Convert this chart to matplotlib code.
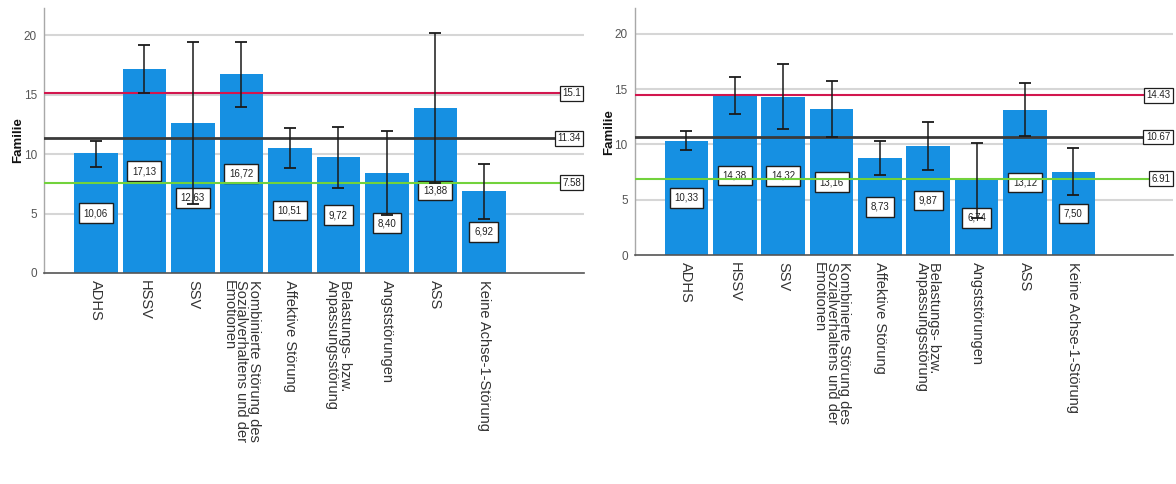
import matplotlib
matplotlib.use("Agg")
import matplotlib.pyplot as plt

# Diagnosis groups shown on the x axis
categories = [
    "ADHS",
    "HSSV",
    "SSV",
    "Kombinierte Störung des\nSozialverhaltens und der\nEmotionen",
    "Affektive Störung",
    "Belastungs- bzw.\nAnpassungsstörung",
    "Angststörungen",
    "ASS",
    "Keine Achse-1-Störung",
]

# Left panel: group means and error bar limits
left_means = [10.06, 17.13, 12.63, 16.72, 10.51, 9.72, 8.40, 13.88, 6.92]
left_upper = [11.13, 19.13, 19.44, 19.44, 12.19, 12.24, 11.97, 20.20, 9.20]
left_lower = [8.95, 15.09, 5.82, 13.92, 8.79, 7.17, 4.85, 7.56, 4.55]
left_refs = [15.1, 11.34, 7.58]
left_ref_labels = ["15.1", "11.34", "7.58"]

# Right panel: group means and error bar limits
right_means = [10.33, 14.38, 14.32, 13.16, 8.73, 9.87, 6.74, 13.12, 7.50]
right_upper = [11.22, 16.09, 17.27, 15.70, 10.26, 12.03, 10.14, 15.55, 9.68]
right_lower = [9.45, 12.70, 11.43, 10.68, 7.19, 7.70, 3.34, 10.74, 5.39]
right_refs = [14.43, 10.67, 6.91]
right_ref_labels = ["14.43", "10.67", "6.91"]

y_ticks = [0, 5, 10, 15, 20]
y_label = "Familie"

BAR_COLOR = "#1690e2"
REF_COLORS = ["#d2164e", "#3a3a3a", "#72d23c"]
REF_WIDTHS = [1.5, 2.0, 1.5]
NARROW = ["Liberation Sans Narrow", "Liberation Sans", "DejaVu Sans"]
SANS = ["Liberation Sans", "DejaVu Sans"]


def draw_panel(ax, means, upper, lower, refs, ref_labels):
    x = list(range(len(means)))
    ax.set_xlim(-1.07, len(means) + 1.06)
    ax.set_ylim(0, 22.3)

    for t in y_ticks[1:]:
        ax.axhline(t, color="#d6d6d6", lw=1.5, zorder=0.5)

    ax.bar(x, means, width=0.9, color=BAR_COLOR, edgecolor="none", zorder=2)

    for xi, m in zip(x, means):
        ax.text(xi, m / 2, f"{m:.2f}".replace(".", ","), ha="center", va="center",
                fontsize=7, family=NARROW, color="#222222", zorder=3,
                bbox=dict(boxstyle="square,pad=0.5", facecolor="white",
                          edgecolor="#1e1e1e", linewidth=1.0))

    for val, col, lw, lab in zip(refs, REF_COLORS, REF_WIDTHS, ref_labels):
        ax.axhline(val, color=col, lw=lw, zorder=4)
        ax.annotate(lab, xy=(1, val), xycoords=("axes fraction", "data"),
                    xytext=(-2.0, 0), textcoords="offset points",
                    ha="right", va="center", fontsize=7, family=NARROW,
                    color="#222222", zorder=6,
                    bbox=dict(boxstyle="square,pad=0.25", facecolor="white",
                              edgecolor="#1e1e1e", linewidth=0.9))

    err_lo = [m - lo for m, lo in zip(means, lower)]
    err_hi = [hi - m for m, hi in zip(means, upper)]
    ax.errorbar(x, means, yerr=[err_lo, err_hi], fmt="none", ecolor="#1a1a1a",
                elinewidth=1.1, capsize=4.5, capthick=1.3, zorder=5)

    for side in ("top", "right"):
        ax.spines[side].set_visible(False)
    ax.spines["left"].set_color("#a8a8a8")
    ax.spines["left"].set_linewidth(1.0)
    ax.spines["bottom"].set_color("#555555")
    ax.spines["bottom"].set_linewidth(1.2)

    ax.set_yticks(y_ticks)
    ax.set_yticklabels([str(t) for t in y_ticks], family=NARROW, fontsize=8.5,
                       color="#555555")
    ax.tick_params(axis="y", length=0, pad=5)

    ax.set_xticks(x)
    ax.set_xticklabels(categories, rotation=270, ha="center", va="top",
                       multialignment="left", fontsize=10.5, family=SANS,
                       color="#333333", linespacing=0.85)
    ax.tick_params(axis="x", length=0, pad=5)

    ax.set_ylabel(y_label, fontsize=9.5, fontweight="bold", family=SANS,
                  color="#111111")
    ax.yaxis.set_label_coords(-0.037, 0.5)


fig = plt.figure(figsize=(11.76, 4.84), dpi=100)
ax_left = fig.add_axes([0.0374, 0.436, 0.459, 0.548])
ax_right = fig.add_axes([0.5397, 0.473, 0.4577, 0.510])

draw_panel(ax_left, left_means, left_upper, left_lower, left_refs, left_ref_labels)
draw_panel(ax_right, right_means, right_upper, right_lower, right_refs, right_ref_labels)

fig.savefig("out.png", dpi=100, facecolor="white")
